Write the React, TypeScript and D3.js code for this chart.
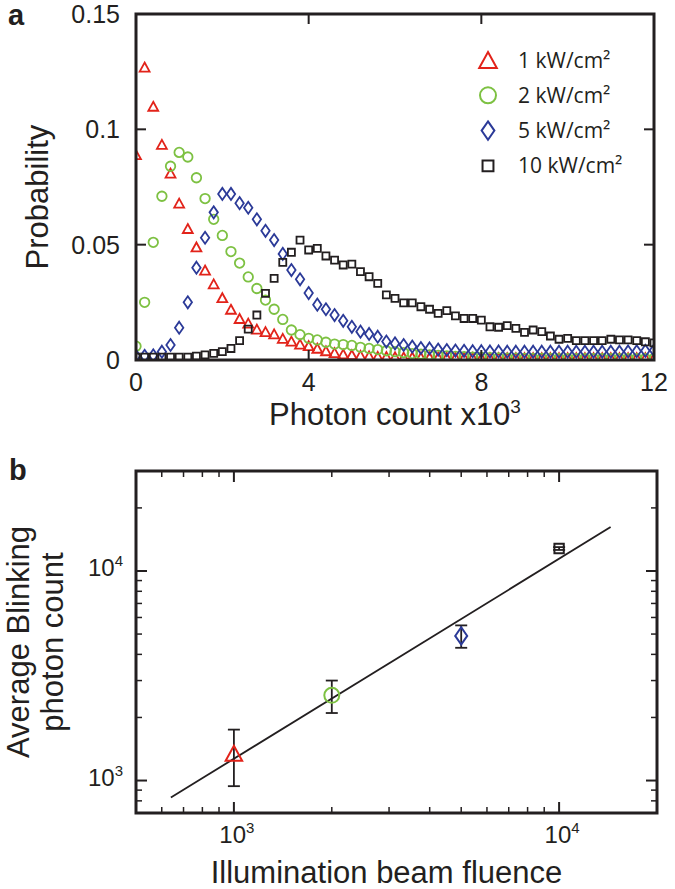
import React from "react";
import * as d3 from "d3";

// ---------- Panel a data ----------
const binStep = 0.2; // x10^3 photons
const series1kW = [0.089,0.127,0.110,0.0935,0.081,0.068,0.057,0.049,0.039,0.033,0.027,0.022,0.018,0.016,0.0134,0.0123,0.0113,0.0094,0.0082,0.0069,0.0062,0.0051,0.004,0.0032,0.0026,
  0.0023,0.002,0.0018,0.0016,0.0015,0.0014,0.0013,0.0013,0.0012,0.0012,0.0012,0.0011,0.0011,0.0011,0.0011,
  0.001,0.001,0.001,0.001,0.001,0.001,0.001,0.001,0.001,0.001,0.001,0.001,0.001,0.001,0.001,0.001,0.001,0.001,0.001,0.001,0.001];
const series2kW = [0.006,0.025,0.051,0.071,0.084,0.090,0.088,0.079,0.070,0.061,0.054,0.047,0.042,0.036,0.031,0.026,0.022,0.0176,0.013,0.011,0.0094,0.0087,0.0077,0.0069,0.0067,
  0.0063,0.0055,0.005,0.0045,0.004,0.0036,0.0032,0.0028,0.0025,0.0022,0.002,0.0018,0.0016,0.0014,0.0012,0.0011,0.001,0.0009,0.0008,0.0008,
  0.0007,0.0007,0.0007,0.0007,0.0006,0.0006,0.0006,0.0006,0.0006,0.0006,0.0006,0.0006,0.0006,0.0006,0.0006,0.0006];
const series5kW = [0.0018,0.0018,0.002,0.0036,0.0065,0.014,0.025,0.040,0.053,0.064,0.072,0.072,0.068,0.066,0.061,0.056,0.052,0.046,0.039,0.035,0.029,0.024,0.022,0.0195,0.017,
  0.0144,0.0123,0.0113,0.0101,0.008,0.0072,0.0065,0.0058,0.0052,0.005,0.0045,0.0043,0.0041,0.004,0.0038,0.0038,0.0037,0.0037,0.0036,0.0036,
  0.0036,0.0036,0.0036,0.0036,0.0036,0.0036,0.0036,0.0036,0.0036,0.0036,0.0036,0.0036,0.0037,0.0038,0.004,0.0042];
const series10kW = [0.0012,0.0012,0.0012,0.0012,0.0012,0.0012,0.0012,0.0017,0.0022,0.0029,0.0036,0.005,0.0084,0.0134,0.0195,0.0289,0.0354,0.0423,0.0467,0.052,0.0477,0.0484,0.0451,0.0433,0.0412,
  0.0416,0.0383,0.0361,0.0332,0.0282,0.0267,0.0248,0.0248,0.0231,0.022,0.0202,0.0214,0.0191,0.018,0.018,0.0173,0.0144,0.0142,0.0149,0.0137,
  0.012,0.013,0.0123,0.0104,0.009,0.0094,0.0084,0.0084,0.0084,0.0084,0.009,0.0087,0.0087,0.0084,0.0079,0.0074];
const legendLabels = ["1 kW/cm\u00B2", "2 kW/cm\u00B2", "5 kW/cm\u00B2", "10 kW/cm\u00B2"];
const xTicksA = [0, 4, 8, 12];
const yTicksA = [0, 0.05, 0.1, 0.15];
const yTickLabelsA = ["0", "0.05", "0.1", "0.15"];

// ---------- Panel b data ----------
const fluence = [1000, 2000, 5000, 10000];
const avgCount = [1350, 2550, 4900, 12800];
const errLow = [940, 2100, 4300, 12600];
const errHigh = [1750, 3000, 5500, 13000];
const fitX = [640, 14400];
const fitY = [830, 16200];
const majorTicksB = [1000, 10000];

const INK = "#231f20";
const COLORS = ["#e2231a", "#7dc142", "#2b3a98", "#231f20"];
const KINDS = ["tri", "circ", "diam", "sq"];
const SANS = "'Liberation Sans', Arial, Helvetica, sans-serif";
const LEG = "'Open Sans', 'Noto Sans', sans-serif";

function markerPath(kind: string, s: number): string {
  if (kind === "tri") {
    const w = s * 1.1, h = s;
    return `M0,${-h / 2}L${w / 2},${h / 2}L${-w / 2},${h / 2}Z`;
  }
  if (kind === "diam") {
    const w = s * 0.8, h = s * 1.15;
    return `M0,${-h / 2}L${w / 2},0L0,${h / 2}L${-w / 2},0Z`;
  }
  if (kind === "sq") {
    const a = s * 0.78;
    return `M${-a / 2},${-a / 2}h${a}v${a}h${-a}Z`;
  }
  const r = s / 2;
  return `M${r},0A${r},${r} 0 1,1 ${-r},0A${r},${r} 0 1,1 ${r},0Z`;
}

function TenPow({ x, y, exp, anchor }: { x: number; y: number; exp: string; anchor: string }) {
  return (
    <text x={x} y={y} textAnchor={anchor as any} fontFamily={SANS} fontSize={24} fill={INK}>
      10<tspan fontSize={15} dy={-10}>{exp}</tspan>
    </text>
  );
}

export default function App() {
  const A = { l: 136, r: 654, t: 14, b: 360 };
  const xA = d3.scaleLinear().domain([0, 12]).range([A.l, A.r]);
  const yA = d3.scaleLinear().domain([0, 0.15]).range([A.b, A.t]);
  const allSeries = [series1kW, series2kW, series5kW, series10kW];
  const sizesA = [9, 9.5, 10.5, 9];

  const B = { l: 136, r: 657, t: 471, b: 813 };
  const xB = d3.scaleLog().domain([500, 20000]).range([B.l, B.r]);
  const yB = d3.scaleLog().domain([700, 30000]).range([B.b, B.t]);
  const xMinorB = xB.ticks().filter((v) => !majorTicksB.includes(v) && v > 500 && v < 20000);
  const yMinorB = yB.ticks().filter((v) => !majorTicksB.includes(v) && v > 700 && v < 30000);
  const fitLine = d3.line<number>().x((d, i) => xB(fitX[i])).y((d, i) => yB(fitY[i]));
  const sizesB = [15, 15, 15, 12];

  return (
    <svg width={675} height={889} style={{ position: "absolute", left: 0, top: 0, background: "#fff" }}>
      <defs>
        <clipPath id="clipA">
          <rect x={A.l} y={A.t} width={A.r - A.l} height={A.b - A.t} />
        </clipPath>
      </defs>
      <rect x={0} y={0} width={675} height={889} fill="#fff" />

      {/* ---------------- Panel a ---------------- */}
      <text x={8} y={25} fontFamily={SANS} fontWeight="bold" fontSize={29} fill={INK}>a</text>
      <g clipPath="url(#clipA)">
        {allSeries.map((ser, si) => (
          <g key={si}>
            {ser.map((v, i) => (
              <path
                key={i}
                d={markerPath(KINDS[si], sizesA[si])}
                transform={`translate(${xA(i * binStep)},${yA(v)})`}
                fill="none"
                stroke={COLORS[si]}
                strokeWidth={1.8}
              />
            ))}
          </g>
        ))}
      </g>
      {xTicksA.map((t) => (
        <g key={"xa" + t}>
          <line x1={xA(t)} x2={xA(t)} y1={A.b} y2={A.b - 10} stroke={INK} strokeWidth={2} />
          <line x1={xA(t)} x2={xA(t)} y1={A.t} y2={A.t + 10} stroke={INK} strokeWidth={2} />
          <text x={xA(t)} y={A.b + 31} textAnchor="middle" fontFamily={SANS} fontSize={25} fill={INK}>{t}</text>
        </g>
      ))}
      {yTicksA.map((t, i) => (
        <g key={"ya" + t}>
          <line x1={A.l} x2={A.l + 10} y1={yA(t)} y2={yA(t)} stroke={INK} strokeWidth={2} />
          <line x1={A.r} x2={A.r - 10} y1={yA(t)} y2={yA(t)} stroke={INK} strokeWidth={2} />
          <text x={A.l - 16} y={yA(t) + 9} textAnchor="end" fontFamily={SANS} fontSize={25} fill={INK}>{yTickLabelsA[i]}</text>
        </g>
      ))}
      <rect x={A.l} y={A.t} width={A.r - A.l} height={A.b - A.t} fill="none" stroke={INK} strokeWidth={3} />
      <text x={(A.l + A.r) / 2} y={425} textAnchor="middle" fontFamily={SANS} fontSize={31} fill={INK}>
        Photon count x10<tspan fontSize={19} dy={-12}>3</tspan>
      </text>
      <text transform={`translate(48,${197}) rotate(-90)`} textAnchor="middle" fontFamily={SANS} fontSize={31} fill={INK}>
        Probability
      </text>
      {legendLabels.map((lab, i) => {
        const ly = 60 + i * 35.3;
        return (
          <g key={lab}>
            <path d={markerPath(KINDS[i], i === 3 ? 14 : 16)} transform={`translate(488,${ly})`} fill="none" stroke={COLORS[i]} strokeWidth={2} />
            <text x={518} y={ly + 7.5} fontFamily={LEG} fontSize={21} fill={INK}>{lab}</text>
          </g>
        );
      })}

      {/* ---------------- Panel b ---------------- */}
      <text x={9} y={480} fontFamily={SANS} fontWeight="bold" fontSize={29} fill={INK}>b</text>
      {xMinorB.map((t) => (
        <g key={"xbm" + t}>
          <line x1={xB(t)} x2={xB(t)} y1={B.b} y2={B.b - 6} stroke={INK} strokeWidth={1.5} />
          <line x1={xB(t)} x2={xB(t)} y1={B.t} y2={B.t + 6} stroke={INK} strokeWidth={1.5} />
        </g>
      ))}
      {yMinorB.map((t) => (
        <g key={"ybm" + t}>
          <line x1={B.l} x2={B.l + 6} y1={yB(t)} y2={yB(t)} stroke={INK} strokeWidth={1.5} />
          <line x1={B.r} x2={B.r - 6} y1={yB(t)} y2={yB(t)} stroke={INK} strokeWidth={1.5} />
        </g>
      ))}
      {majorTicksB.map((t, i) => (
        <g key={"bmaj" + t}>
          <line x1={xB(t)} x2={xB(t)} y1={B.b} y2={B.b - 11} stroke={INK} strokeWidth={2} />
          <line x1={xB(t)} x2={xB(t)} y1={B.t} y2={B.t + 11} stroke={INK} strokeWidth={2} />
          <line x1={B.l} x2={B.l + 11} y1={yB(t)} y2={yB(t)} stroke={INK} strokeWidth={2} />
          <line x1={B.r} x2={B.r - 11} y1={yB(t)} y2={yB(t)} stroke={INK} strokeWidth={2} />
          <TenPow x={xB(t) + 3} y={B.b + 30} exp={String(3 + i)} anchor="middle" />
          <TenPow x={B.l - 13} y={yB(t) + 5} exp={String(3 + i)} anchor="end" />
        </g>
      ))}
      <rect x={B.l} y={B.t} width={B.r - B.l} height={B.b - B.t} fill="none" stroke={INK} strokeWidth={3} />
      <path d={fitLine(fitX) || ""} fill="none" stroke={INK} strokeWidth={1.8} />
      {fluence.map((f, i) => (
        <g key={"pt" + f}>
          <line x1={xB(f)} x2={xB(f)} y1={yB(errLow[i])} y2={yB(errHigh[i])} stroke={INK} strokeWidth={1.8} />
          <line x1={xB(f) - 6} x2={xB(f) + 6} y1={yB(errLow[i])} y2={yB(errLow[i])} stroke={INK} strokeWidth={1.8} />
          <line x1={xB(f) - 6} x2={xB(f) + 6} y1={yB(errHigh[i])} y2={yB(errHigh[i])} stroke={INK} strokeWidth={1.8} />
          <path d={markerPath(KINDS[i], sizesB[i])} transform={`translate(${xB(f)},${yB(avgCount[i])})`} fill="none" stroke={COLORS[i]} strokeWidth={2} />
        </g>
      ))}
      <text x={(B.l + B.r) / 2 - 10} y={883} textAnchor="middle" fontFamily={SANS} fontSize={31} fill={INK}>
        Illumination beam fluence
      </text>
      <text transform={`translate(29,${642}) rotate(-90)`} textAnchor="middle" fontFamily={SANS} fontSize={31} fill={INK}>
        Average Blinking
      </text>
      <text transform={`translate(63,${642}) rotate(-90)`} textAnchor="middle" fontFamily={SANS} fontSize={31} fill={INK}>
        photon count
      </text>
    </svg>
  );
}
